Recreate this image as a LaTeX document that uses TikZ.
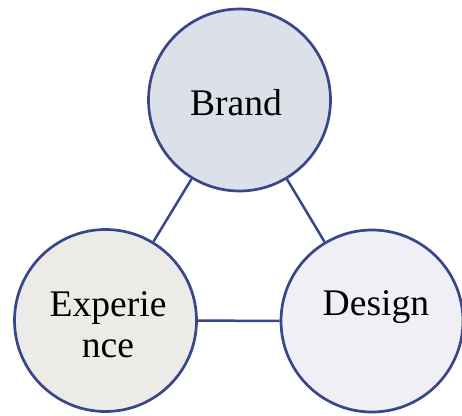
\documentclass[tikz,border=0pt]{standalone}
\usepackage{fontspec}
\setmainfont{Liberation Serif}
\usepackage{tikz}

\definecolor{ringblue}{RGB}{58,70,138}
\definecolor{brandfill}{RGB}{220,225,233}
\definecolor{experfill}{RGB}{236,235,231}
\definecolor{designfill}{RGB}{240,239,245}

\tikzset{
	ring/.style={circle,draw=ringblue,line width=2.7pt,minimum size=182pt,inner sep=0pt},
	link/.style={draw=ringblue,line width=2.5pt},
	word/.style={font=\fontsize{37.6}{41}\selectfont,inner sep=0pt,align=center}
}

\begin{document}
\begin{tikzpicture}[x=1pt,y=1pt]
			\useasboundingbox (0,0) rectangle (462,-415);
			\node[ring,fill=brandfill] (brand) at (239.5,-100) {};
			\node[ring,fill=experfill] (exper) at (105.5,-320.5) {};
			\node[ring,fill=designfill] (design) at (372,-321) {};
			\draw[link] (brand) -- (exper);
			\draw[link] (brand) -- (design);
			\draw[link] (exper) -- (design);
			\node[word,anchor=base] (brandtext) at (236,-115) {Brand};
			\node[word] (expertext) at (108,-325) {Experie\\nce};
			\node[word,anchor=base] (designtext) at (376,-315) {Design};
		\end{tikzpicture}
\end{document}
